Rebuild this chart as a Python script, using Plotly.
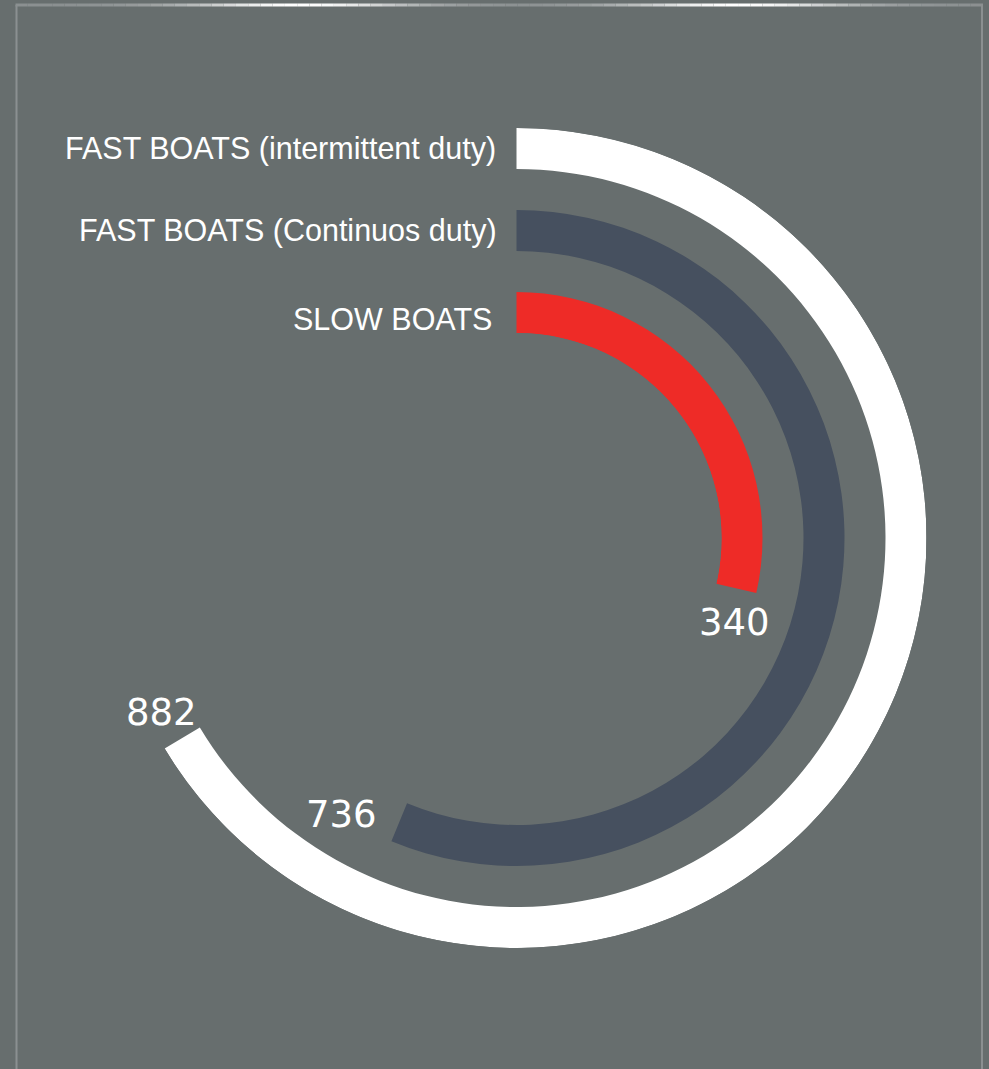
import plotly.graph_objects as go
import numpy as np

# ---------------- data ----------------
categories = ["SLOW BOATS", "FAST BOATS (Continuos duty)", "FAST BOATS (intermittent duty)"]
values = [340, 736, 882]
value_labels = ["340", "736", "882"]
colors = ["#ee2b27", "#46505f", "#ffffff"]

# ---------------- layout constants ----------------
W, H = 989, 1069
BG = "#676e6e"
CX, CY, R_OUT = 516.5, 538.0, 410.0

# angular scale (value -> degrees clockwise from 12 o'clock)
V0, V1 = -69.4, 1363.0


def angle(v):
    return (v - V0) * 360.0 / (V1 - V0)


def px(x):
    return x / W


def py(y):
    return 1 - y / H


fig = go.Figure()
for i, (cat, v, c) in enumerate(zip(categories, values, colors)):
    span = angle(v)
    fig.add_trace(go.Barpolar(
        r=[0.5], base=[i], theta=[span / 2], width=[span],
        marker=dict(color=c, line=dict(width=0)),
        name=cat, hoverinfo="skip", showlegend=False,
    ))

fig.update_layout(
    width=W, height=H,
    margin=dict(l=0, r=0, t=0, b=0),
    paper_bgcolor=BG, plot_bgcolor=BG,
    polar=dict(
        domain=dict(x=[px(CX - R_OUT), px(CX + R_OUT)], y=[py(CY + R_OUT), py(CY - R_OUT)]),
        hole=0.5,
        bgcolor="rgba(0,0,0,0)",
        radialaxis=dict(range=[0, 2.5], visible=False),
        angularaxis=dict(rotation=90, direction="clockwise", visible=False),
        barmode="overlay",
    ),
)

# category labels (left of bar starts)
label_y = [319, 230, 149]
label_x = [494, 499, 498]
for cat, x, y in zip(categories, label_x, label_y):
    fig.add_annotation(x=px(x), y=py(y), xref="paper", yref="paper",
                       text=cat, showarrow=False, xanchor="right", yanchor="middle",
                       font=dict(family="Liberation Sans, Arial, sans-serif", size=30.5, color="#ffffff"))

# value labels near arc ends
val_pos = [(734, 622), (341.7, 814), (161.7, 712.5)]
for lab, (x, y) in zip(value_labels, val_pos):
    fig.add_annotation(x=px(x), y=py(y), xref="paper", yref="paper",
                       text=lab, showarrow=False, xanchor="center", yanchor="middle",
                       font=dict(family="DejaVu Sans, sans-serif", size=37, color="#ffffff"))

# frame
shapes = []
for xv in (16.5, 982):
    shapes.append(dict(type="line", xref="paper", yref="paper", x0=px(xv), x1=px(xv), y0=py(5), y1=py(1080),
                       line=dict(color="#8b9091", width=2)))
# top line with a light gradient sheen
xs = np.linspace(15.5, 983, 80)
for a, b in zip(xs[:-1], xs[1:]):
    m = (a + b) / 2
    t = max(np.exp(-((m - 300) / 110) ** 2), np.exp(-((m - 738) / 110) ** 2))
    base = np.array([0x8b, 0x90, 0x91])
    col = base + (255 - base) * t
    shapes.append(dict(type="line", xref="paper", yref="paper", x0=px(a), x1=px(b), y0=py(5), y1=py(5),
                       line=dict(color="rgb(%d,%d,%d)" % tuple(col.astype(int)), width=3)))
fig.update_layout(shapes=shapes)

fig.write_html("out.html", config={"displayModeBar": False},
               post_script="document.body.style.margin='0';document.body.style.background='%s';" % BG)
